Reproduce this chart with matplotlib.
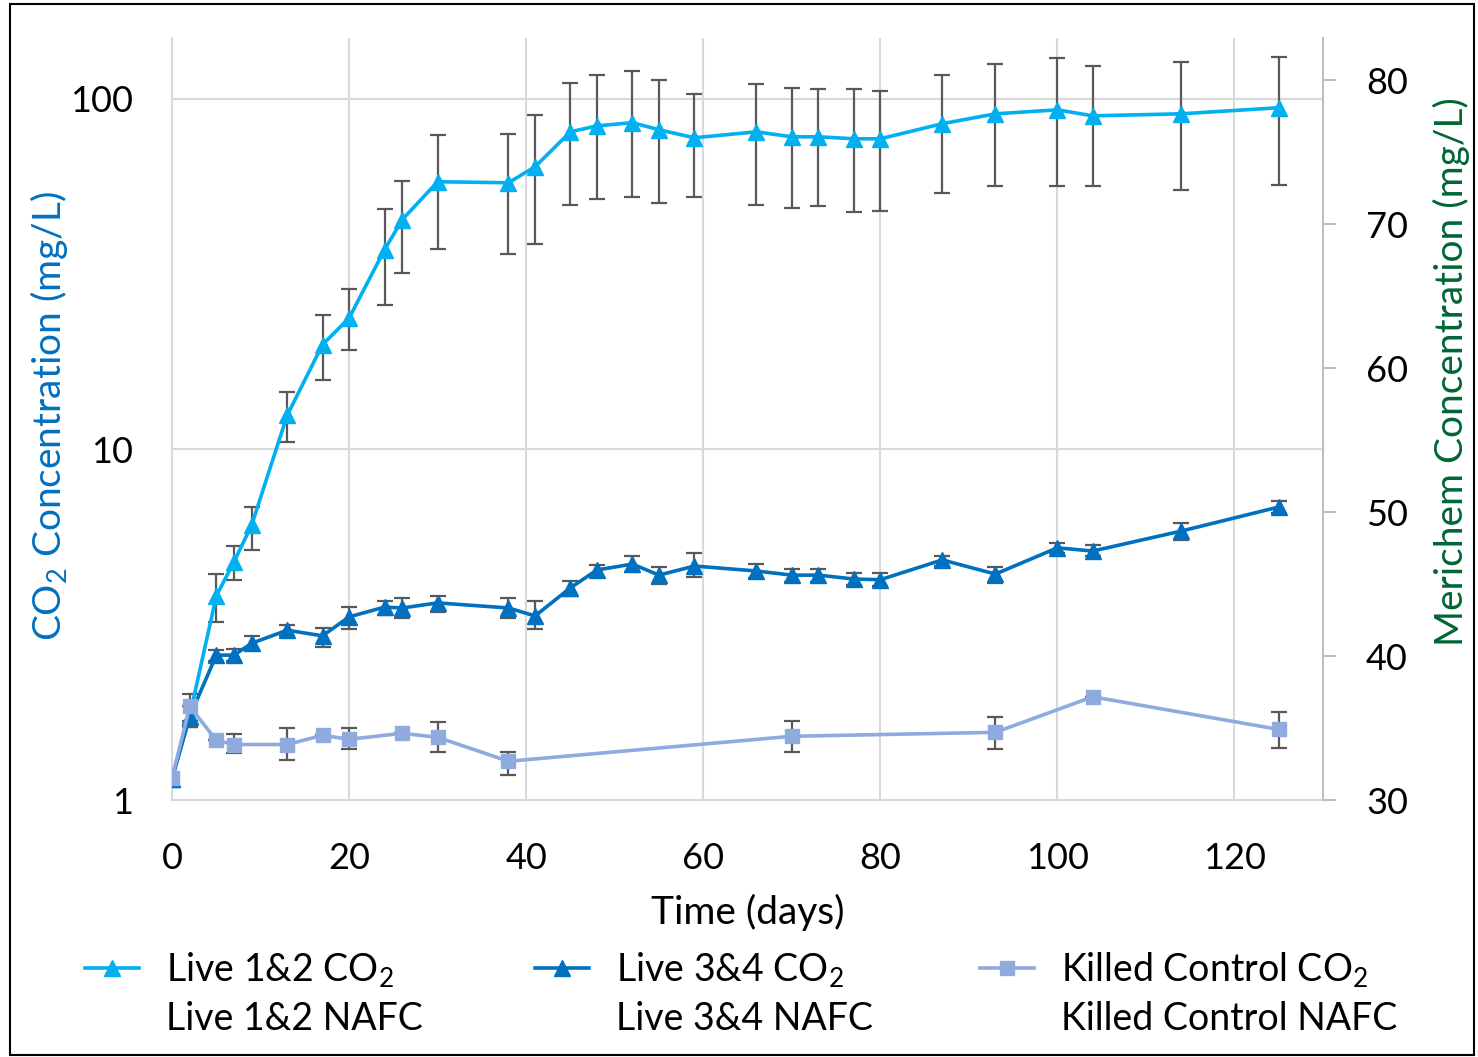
import numpy as np
import matplotlib
matplotlib.use('Agg')
import matplotlib.pyplot as plt
from matplotlib.lines import Line2D
from matplotlib.patches import Rectangle

plt.rcParams['font.family'] = ['Lato', 'DejaVu Sans']
plt.rcParams['mathtext.fontset'] = 'custom'
plt.rcParams['mathtext.rm'] = 'Lato'
plt.rcParams['mathtext.it'] = 'Lato'

# Live 1&2 CO2
days_12 = [0, 2, 5, 7, 9, 13, 17, 20, 24, 26, 30, 38, 41, 45, 48, 52, 55, 59, 66, 70, 73, 77, 80, 87, 93, 100, 104, 114, 125]
co2_12 = [1.15, 1.74, 3.82, 4.78, 6.09, 12.5, 19.9, 23.7, 37.1, 45.2, 58.0, 57.6, 64.0, 80.5, 83.7, 85.5, 81.6, 77.4,
          80.5, 77.9, 77.9, 76.9, 76.9, 84.9, 90.6, 93.0, 89.4, 90.6, 94.3]
hi_12 = [1.15, 1.85, 4.41, 5.3, 6.85, 14.6, 24.2, 28.7, 48.6, 58.3, 78.6, 79.6, 89.8, 111, 116.6, 120, 113, 103,
         110, 107.6, 106.8, 106.8, 105, 117, 126, 131, 123.7, 127, 131.6]
lo_12 = [1.15, 1.62, 3.22, 4.24, 5.17, 10.5, 15.8, 19.2, 25.8, 31.8, 37.2, 36.2, 38.6, 49.9, 51.9, 52.6, 50.5, 52.3,
         49.9, 48.8, 49.5, 47.5, 47.8, 53.8, 56.3, 56.3, 56.3, 55.0, 56.6]

# Live 3&4 CO2
days_34 = days_12
co2_34 = [1.15, 1.73, 2.59, 2.59, 2.80, 3.05, 2.94, 3.33, 3.55, 3.53, 3.65, 3.53, 3.35, 4.03, 4.53, 4.71, 4.38, 4.65,
          4.50, 4.38, 4.38, 4.27, 4.25, 4.84, 4.41, 5.24, 5.13, 5.85, 6.85]
hi_34 = [1.15, 1.85, 2.68, 2.70, 2.94, 3.15, 3.09, 3.55, 3.69, 3.77, 3.83, 3.77, 3.70, 4.22, 4.69, 4.95, 4.62, 5.06,
         4.72, 4.55, 4.55, 4.45, 4.43, 4.98, 4.62, 5.40, 5.33, 6.17, 7.12]
lo_34 = [1.15, 1.62, 2.50, 2.49, 2.67, 2.93, 2.74, 3.08, 3.38, 3.30, 3.43, 3.31, 3.08, 3.83, 4.33, 4.46, 4.14, 4.34,
         4.31, 4.20, 4.20, 4.10, 4.07, 4.65, 4.15, 5.05, 4.97, 5.53, 6.60]

# Killed control CO2
days_kc = [0, 2, 5, 7, 13, 17, 20, 26, 30, 38, 70, 93, 104, 125]
co2_kc = [1.155, 1.85, 1.48, 1.44, 1.44, 1.53, 1.49, 1.55, 1.51, 1.29, 1.52, 1.56, 1.97, 1.59]
hi_kc = [1.155, 2.0, 1.48, 1.54, 1.60, 1.53, 1.60, 1.55, 1.67, 1.37, 1.68, 1.73, 1.97, 1.78]
lo_kc = [1.155, 1.68, 1.48, 1.36, 1.30, 1.53, 1.40, 1.55, 1.37, 1.18, 1.37, 1.40, 1.97, 1.41]

series = [
    ('Live 1&2', days_12, co2_12, hi_12, lo_12, '#00B0F0', '^', 11),
    ('Live 3&4', days_34, co2_34, hi_34, lo_34, '#0070C0', '^', 11),
    ('Killed Control', days_kc, co2_kc, hi_kc, lo_kc, '#8FAADC', 's', 10.5),
]

fig = plt.figure(figsize=(14.78, 10.57), dpi=100)
ax = fig.add_axes([0.1164, 0.2431, 0.7787, 0.7209])
ax2 = ax.twinx()

grid_c = '#D9D9D9'
legend_x = [85 / 1478, 535 / 1478, 980 / 1478]
for (name, d, v, hi, lo, col, mk, ms), lx in zip(series, legend_x):
    v = np.array(v)
    yerr = [v - np.array(lo), np.array(hi) - v]
    ax.errorbar(d, v, yerr=yerr, fmt='none', ecolor='#595959', elinewidth=1.6, capsize=6, capthick=1.6, zorder=2)
    ax.plot(d, v, color=col, lw=2.6, marker=mk, ms=ms, zorder=3)
    h = [Line2D([], [], color=col, lw=2.6, marker=mk, ms=ms), Line2D([], [], color='none')]
    fig.legend(h, [name + ' CO$_2$', name + ' NAFC'], loc='upper left',
               bbox_to_anchor=(lx, 1 - 950 / 1057), frameon=False, fontsize=27,
               borderpad=0, borderaxespad=0, handlelength=1.45, handletextpad=0.7,
               labelspacing=0.33)

ax.set_yscale('log')
ax.set_ylim(1, 149)
ax.set_xlim(0, 130)
ax.set_xticks(np.arange(0, 121, 20))
ax.set_yticks([1, 10, 100])
ax.set_yticklabels(['1', '10', '100'])
ax.minorticks_off()
ax.tick_params(axis='x', length=0, labelsize=26, pad=30)
ax.tick_params(axis='y', length=0, labelsize=26, pad=28)
ax.grid(True, color=grid_c, lw=1.5)
ax.set_axisbelow(True)
for s in ['top', 'right']:
    ax.spines[s].set_visible(False)
for s in ['left', 'bottom']:
    ax.spines[s].set_color(grid_c)
    ax.spines[s].set_linewidth(1.5)

ax2.set_ylim(30, 80 + 42 / 14.4)
ax2.set_yticks(np.arange(30, 81, 10))
ax2.tick_params(axis='y', length=9, width=1.5, color='#BFBFBF', labelsize=26, pad=22)
for s in ['top', 'left', 'bottom']:
    ax2.spines[s].set_visible(False)
ax2.spines['right'].set_color('#BFBFBF')
ax2.spines['right'].set_linewidth(1.5)

ax.set_xlabel('Time (days)', fontsize=28, labelpad=14)
ax.set_ylabel('CO$_2$ Concentration (mg/L)', fontsize=28, color='#0070C0')
ax.yaxis.set_label_coords(-0.0886, 0.504)
ax2.set_ylabel('Merichem Concentration (mg/L)', fontsize=28, color='#006633')
ax2.yaxis.set_label_coords(1.0955, 0.562)

fig.patches.append(Rectangle((0.007, 0.002), 0.99, 0.994, transform=fig.transFigure,
                             fill=False, edgecolor='black', lw=1.5))

fig.savefig('out.png', dpi=100)
